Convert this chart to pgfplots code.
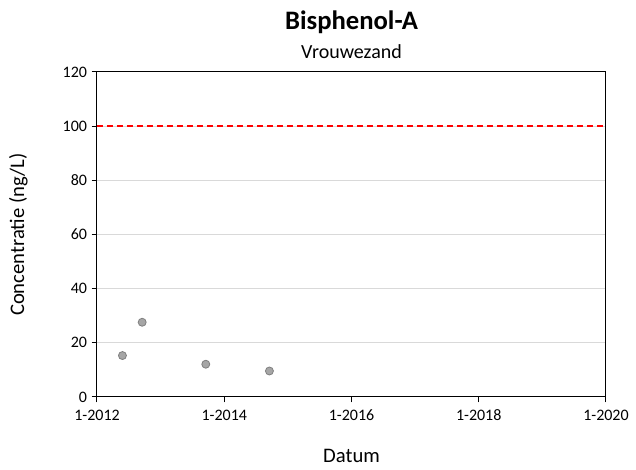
\documentclass[border=0pt]{standalone}
\usepackage{fontspec}
\setmainfont{Carlito}
\usepackage{pgfplots}
\pgfplotsset{compat=1.18}

\definecolor{gridgray}{HTML}{D9D9D9}
\definecolor{markfill}{HTML}{A6A6A6}
\definecolor{markedge}{HTML}{7F7F7F}

\begin{document}
\begin{tikzpicture}
	% canvas of the reference (axis box at origin)
	\useasboundingbox (-72.75pt,-54.75pt) rectangle (404.25pt,297.75pt);
	\begin{axis}[
		at={(0,0)}, anchor=south west,
		scale only axis,
		width=381.75pt, height=243.75pt,
		xmin=2012, xmax=2020,
		ymin=0, ymax=120,
		xtick={2012,2014,2016,2018,2020},
		xticklabels={1-2012,1-2014,1-2016,1-2018,1-2020},
		ytick={0,20,40,60,80,100,120},
		ymajorgrids,
		major grid style={gridgray, line width=0.75pt},
		axis line style={black, line width=0.75pt},
		tick style={black, line width=0.75pt},
		tick align=outside,
		major tick length=4pt,
		xtick pos=bottom, ytick pos=left,
		tick label style={font=\fontsize{12}{14}\selectfont},
		/pgf/number format/assume math mode=true,
		/pgf/number format/1000 sep={},
		xticklabel style={yshift=-2pt},
		clip=false,
		]
		% limit
		\addplot[red, line width=1.5pt, dash pattern=on 4.5pt off 3pt] coordinates {(2012,100) (2020,100)};
		% measurements
		\addplot[only marks, mark=*, mark size=3pt,
			mark options={fill=markfill, draw=markedge, line width=0.6pt}] coordinates {
			(2012.40, 15.3)
			(2012.71, 27.6)
			(2013.71, 12.1)
			(2014.71, 9.6)
		};
	\end{axis}
	\node[font=\fontsize{20}{24}\selectfont\bfseries] at (190.9pt,281.25pt) {Bisphenol-A};
	\node[font=\fontsize{15}{18}\selectfont] at (190.9pt,258.75pt) {Vrouwezand};
	\node[font=\fontsize{15.5}{18}\selectfont] at (190.9pt,-44pt) {Datum};
	\node[font=\fontsize{15.5}{18}\selectfont, rotate=90] at (-59pt,121.875pt) {Concentratie (ng/L)};
\end{tikzpicture}
\end{document}
